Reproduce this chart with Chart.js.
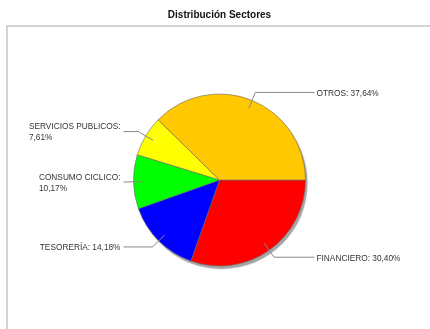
<!DOCTYPE html>
<html lang="es">
<head>
<meta charset="UTF-8">
<title>Distribución Sectores</title>
<script src="https://cdn.jsdelivr.net/npm/chart.js"></script>
<style>
  html, body { margin: 0; padding: 0; background: #fff; }
  #wrap { width: 430px; height: 329px; }
</style>
</head>
<body>
<div id="wrap"><canvas id="pieChart" width="430" height="329"></canvas></div>
<script>
// data
var sectors = ['FINANCIERO', 'TESORERÍA', 'CONSUMO CICLICO', 'SERVICIOS PUBLICOS', 'OTROS'];
var shares = [30.40, 14.18, 10.17, 7.61, 37.64];
var sliceColors = ['#ff0000', '#0000ff', '#00ff00', '#ffff00', '#ffc800'];

function pct(v) {
    return v.toFixed(2).replace('.', ',') + '%';
}

// frame + shadow under the pie
var backdrop = {
    id: 'backdrop',
    beforeDraw: function (chart) {
        var ctx = chart.ctx;
        ctx.save();
        ctx.strokeStyle = '#d4d4d4';
        ctx.lineWidth = 2;
        ctx.beginPath();
        ctx.moveTo(7, 329);
        ctx.lineTo(7, 26);
        ctx.lineTo(430, 26);
        ctx.stroke();
        ctx.restore();
    },
    beforeDatasetsDraw: function (chart) {
        var arc = chart.getDatasetMeta(0).data[0];
        if (!arc) return;
        var p = arc.getProps(['x', 'y', 'outerRadius'], true);
        var ctx = chart.ctx;
        ctx.save();
        ctx.fillStyle = 'rgba(110,110,110,0.5)';
        ctx.shadowColor = 'rgba(110,110,110,0.5)';
        ctx.shadowBlur = 2;
        ctx.beginPath();
        ctx.arc(p.x + 2, p.y + 3, p.outerRadius, 0, Math.PI * 2);
        ctx.fill();
        ctx.restore();
    }
};

// labels with elbow leader lines
var sliceLabels = {
    id: 'sliceLabels',
    afterDatasetsDraw: function (chart) {
        var ctx = chart.ctx;
        var meta = chart.getDatasetMeta(0);
        ctx.save();
        ctx.font = '8.3px "Liberation Sans", Arial, sans-serif';
        ctx.textBaseline = 'middle';
        meta.data.forEach(function (el, i) {
            var p = el.getProps(['x', 'y', 'startAngle', 'endAngle', 'outerRadius'], true);
            var a = (p.startAngle + p.endAngle) / 2;
            var r = p.outerRadius;
            var cos = Math.cos(a), sin = Math.sin(a);
            var ax = p.x + cos * r * 0.9, ay = p.y + sin * r * 0.9;
            var ex = p.x + cos * r * 1.1, ey = p.y + sin * r * 1.1;
            var right = cos >= 0;
            var endX = right ? p.x + r + 9 : p.x - r - 10;
            ctx.strokeStyle = '#8a8a8a';
            ctx.lineWidth = 1;
            ctx.beginPath();
            ctx.moveTo(ax, ay);
            ctx.lineTo(ex, ey);
            ctx.lineTo(endX, ey);
            ctx.stroke();

            var full = sectors[i] + ': ' + pct(shares[i]);
            var lines = ctx.measureText(full).width > 90 ? [sectors[i] + ':', pct(shares[i])] : [full];
            var w = Math.max.apply(null, lines.map(function (t) { return ctx.measureText(t).width; }));
            var tx = right ? endX + 2 : endX - 3 - w;
            var lh = 11;
            var y0 = ey + 1 - (lines.length - 1) * lh / 2;
            ctx.fillStyle = '#333';
            ctx.textAlign = 'left';
            lines.forEach(function (t, k) {
                ctx.fillText(t, tx, y0 + k * lh);
            });
        });
        ctx.restore();
    }
};

var ctx = document.getElementById('pieChart').getContext('2d');
new Chart(ctx, {
    type: 'pie',
    data: {
        labels: sectors,
        datasets: [{
            data: shares,
            backgroundColor: sliceColors,
            borderColor: '#6a6a6a',
            borderWidth: 0.6
        }]
    },
    options: {
        responsive: false,
        animation: false,
        rotation: 90,
        radius: 86,
        layout: { padding: { left: 9, right: 0, top: 0, bottom: 0 } },
        plugins: {
            legend: { display: false },
            tooltip: { enabled: false },
            title: {
                display: true,
                text: 'Distribución Sectores',
                color: '#111',
                font: { family: '"Liberation Sans", Arial, sans-serif', size: 10, weight: 'bold' },
                padding: { top: 9, bottom: 10 }
            }
        }
    },
    plugins: [backdrop, sliceLabels]
});
</script>
</body>
</html>
